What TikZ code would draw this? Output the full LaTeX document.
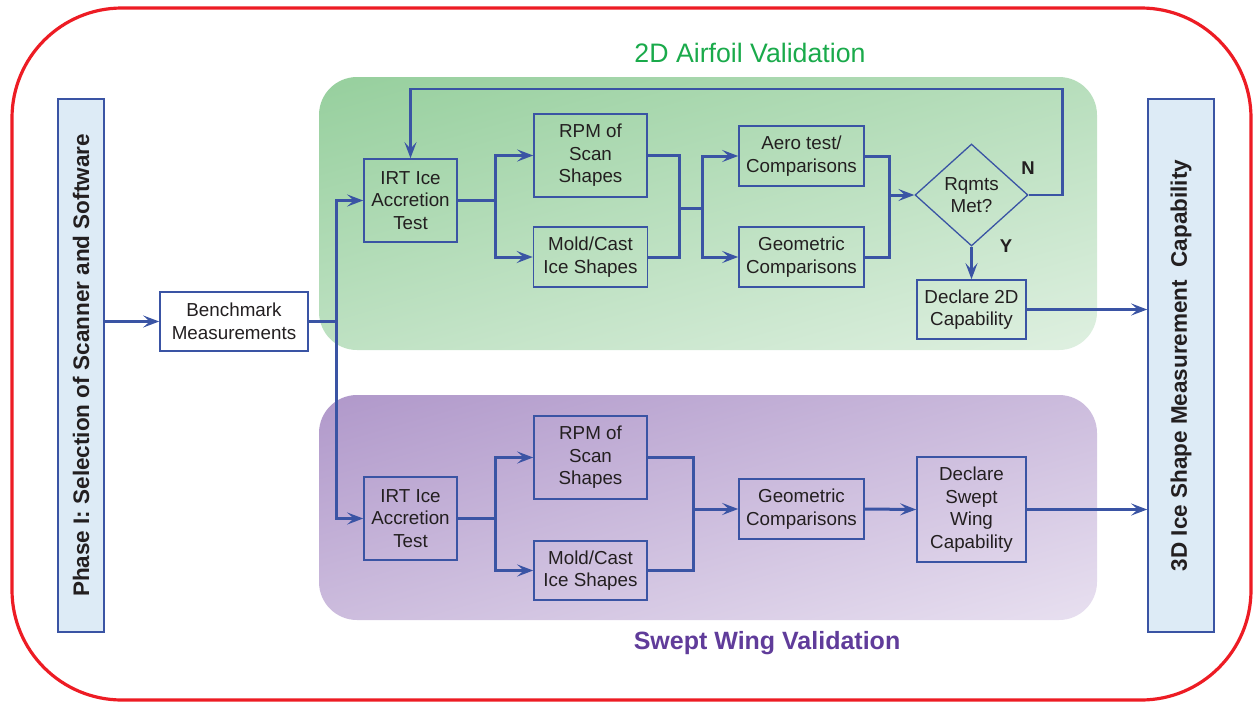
\documentclass[tikz,border=0pt]{standalone}
\usepackage{fontspec}
\setmainfont{Liberation Sans}
\usetikzlibrary{arrows.meta,shapes.geometric,calc}
\definecolor{bl}{RGB}{58,84,164}
\definecolor{txt}{RGB}{35,31,32}
\definecolor{gTL}{RGB}{150,207,157}
\definecolor{gBR}{RGB}{223,240,225}
\definecolor{pTL}{RGB}{176,152,202}
\definecolor{pBR}{RGB}{232,224,240}
\definecolor{sidefill}{RGB}{221,235,246}
\definecolor{redl}{RGB}{237,28,36}
\definecolor{gtitle}{RGB}{26,170,75}
\definecolor{ptitle}{RGB}{96,60,154}
\begin{document}
\begin{tikzpicture}[x=1pt,y=-1pt,
 box/.style={draw=bl,line width=1.6pt,text=txt,font=\fontsize{18.8}{22.5}\selectfont,align=center,inner sep=0pt},
 conn/.style={draw=bl,line width=3pt},
 arr/.style={conn,-{Stealth[length=16pt,width=12pt,inset=6.5pt]}},
 side/.style={draw=bl,line width=1.6pt,fill=sidefill,text=txt,font=\fontsize{22.5}{27}\selectfont\bfseries,rotate=90,inner sep=0pt,minimum width=533pt},
 lbl/.style={text=txt,font=\fontsize{18.5}{22}\selectfont\bfseries,inner sep=0pt}
]
\useasboundingbox (0,0) rectangle (1254,702);
% outer frame
\draw[redl,line width=3.2pt,rounded corners=110pt] (12,8) rectangle (1251,700);
% regions
\begin{scope}
\clip[rounded corners=38pt] (319,77) rectangle (1097,350);
\shade[top color=gTL,bottom color=gBR,transform canvas={rotate around={16:(708,213.5)}}] (108,-25) rectangle (1308,452);
\end{scope}
\begin{scope}
\clip[rounded corners=38pt] (319,395) rectangle (1097,620);
\shade[top color=pTL,bottom color=pBR,transform canvas={rotate around={16:(708,507.5)}}] (108,292) rectangle (1308,723);
\end{scope}
\node[text=gtitle,font=\fontsize{26.7}{30}\selectfont,inner sep=0pt] (gt) at (750,53) {2D Airfoil Validation};
\node[text=ptitle,font=\fontsize{25}{30}\selectfont\bfseries,inner sep=0pt] (pt) at (767,643) {Swept Wing Validation};
% side boxes
\node[side,minimum height=46pt] (phase) at (81,365.5) {Phase I: Selection of Scanner and Software};
\node[side,minimum height=66pt] (cap) at (1181,365.5) {3D Ice Shape Measurement\ \ Capability};
% benchmark
\node[box,fill=white,minimum width=148pt,minimum height=59pt] (bench) at (234,321.5) {Benchmark\\Measurements};
% green nodes
\node[box,minimum width=93pt,minimum height=83pt] (ga) at (410.5,200.5) {IRT Ice\\Accretion\\Test};
\node[box,minimum width=113pt,minimum height=83pt] (gr) at (590.5,155.5) {RPM of\\Scan\\Shapes};
\node[box,minimum width=114pt,minimum height=60pt] (gm) at (590.5,257) {Mold/Cast\\Ice Shapes};
\node[box,minimum width=125pt,minimum height=60pt] (gae) at (801.5,156) {Aero test/\\Comparisons};
\node[box,minimum width=125pt,minimum height=60pt] (gg) at (801.5,257) {Geometric\\Comparisons};
\node[box,diamond,line width=1.3pt,minimum width=113pt,minimum height=102pt] (dia) at (971.5,195) {Rqmts\\Met?};
\node[box,minimum width=109pt,minimum height=59pt] (d2) at (971.5,309.5) {Declare 2D\\Capability};
\node[lbl] (nl) at (1028,168) {N};
\node[lbl] (yl) at (1006,246) {Y};
% purple nodes
\node[box,minimum width=93pt,minimum height=83pt] (pa) at (410.5,518.5) {IRT Ice\\Accretion\\Test};
\node[box,minimum width=113pt,minimum height=83pt] (pr) at (590.5,457.5) {RPM of\\Scan\\Shapes};
\node[box,minimum width=113pt,minimum height=59pt] (pm) at (590.5,570.5) {Mold/Cast\\Ice Shapes};
\node[box,minimum width=125pt,minimum height=60pt] (pg) at (801.5,509) {Geometric\\Comparisons};
\node[box,minimum width=109pt,minimum height=105pt] (pd) at (971.5,509.5) {Declare\\Swept\\Wing\\Capability};
% connectors
\draw[arr] (phase.south |- bench.west) -- (bench.west);
\coordinate (j1) at (336,321.5);
\draw[conn] (bench.east) -- (j1);
\draw[arr] (j1) |- (ga.west);
\draw[arr] (j1) |- (pa.west);
\coordinate (j2) at (495,200.5);
\draw[conn] (ga.east) -- (j2);
\draw[arr] (j2) |- (gr.west);
\draw[arr] (j2) |- (gm.west);
\coordinate (j3) at (679,208);
\draw[conn] (gr.east) -| (j3);
\draw[conn] (gm.east) -| (j3);
\coordinate (j4) at (702,208);
\draw[conn] (j3) -- (j4);
\draw[arr] (j4) |- (gae.west);
\draw[arr] (j4) |- (gg.west);
\coordinate (j5) at (889,195);
\draw[conn] (gae.east) -| (j5);
\draw[conn] (gg.east) -| (j5);
\draw[arr] (j5) -- (dia.west);
\draw[arr] (dia.south) -- (d2.north);
\coordinate (fb) at (1062.5,89);
\draw[arr,line width=2.6pt] (dia.east) -| (fb) -| (ga.north);
\draw[arr] (d2.east) -- (d2.east -| cap.north);
\coordinate (k2) at (495,518.5);
\draw[conn] (pa.east) -- (k2);
\draw[arr] (k2) |- (pr.west);
\draw[arr] (k2) |- (pm.west);
\coordinate (k3) at (693,509);
\draw[conn] (pr.east) -| (k3);
\draw[conn] (pm.east) -| (k3);
\draw[arr] (k3) -- (pg.west);
\draw[arr] (pg.east) -- (pd.west);
\draw[arr] (pd.east) -- (pd.east -| cap.north);
\end{tikzpicture}
\end{document}
